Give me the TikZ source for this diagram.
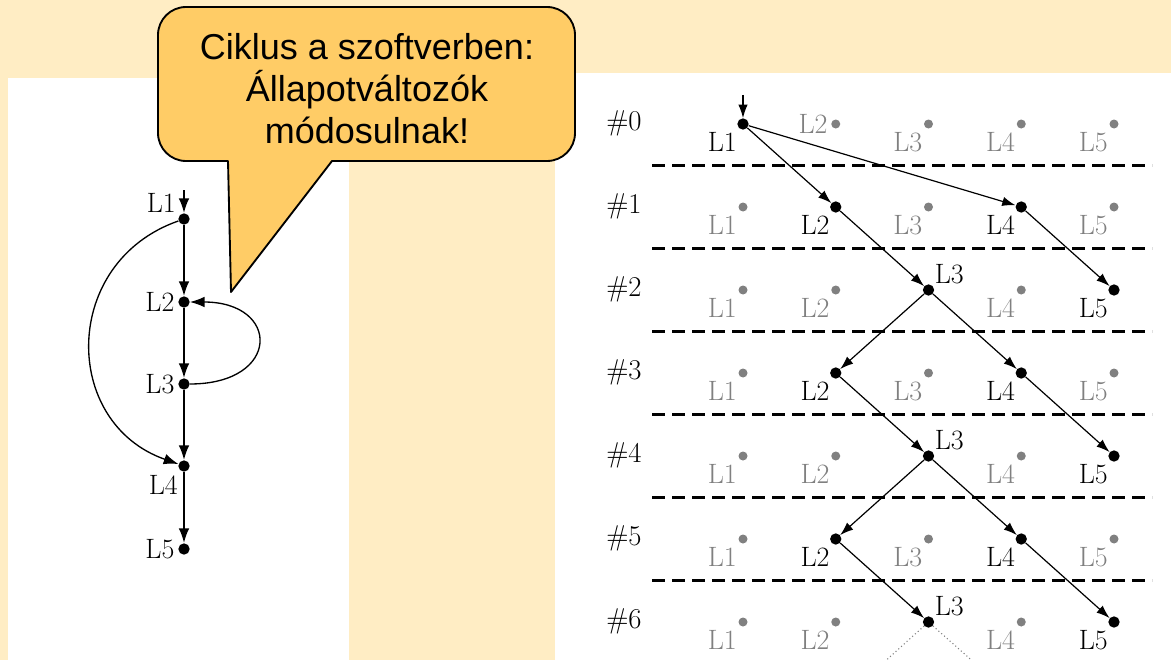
\documentclass[tikz,border=0pt]{standalone}
\usepackage{fontspec}
\newfontfamily\calloutfont{Liberation Sans}
\usetikzlibrary{arrows.meta}

\definecolor{paper}{RGB}{255,237,196}
\definecolor{callfill}{RGB}{255,204,102}
\definecolor{idle}{RGB}{128,128,128}

\tikzset{
  live/.style={circle, fill=black, inner sep=0pt, minimum size=8.5pt},
  idledot/.style={circle, fill=idle, inner sep=0pt, minimum size=6.75pt},
  lab/.style={inner sep=0pt, font=\fontsize{21}{25}\selectfont},
  idlelab/.style={lab, text=idle},
  rowlab/.style={inner sep=0pt, font=\fontsize{21.5}{25}\selectfont},
  flow/.style={-{Latex[length=10pt,width=7pt]}, line width=0.9pt},
  mainflow/.style={-{Latex[length=11pt,width=8pt]}, line width=1.5pt},
  sideflow/.style={-{Latex[length=11pt,width=8pt]}, line width=1pt},
  stepline/.style={dash pattern=on 9.5pt off 5.5pt, line width=1.6pt},
  fadeline/.style={dotted, idle, line width=0.8pt},
  callout/.style={draw=black, line width=1.4pt, fill=callfill, line join=round},
  callouttext/.style={align=center, inner sep=0pt,
    font=\calloutfont\fontsize{27}{31.5}\selectfont}
}

\begin{document}
\begin{tikzpicture}[x=0.75pt, y=-0.75pt]
\useasboundingbox (0,0) rectangle (1171,660);

% page background and the two white panels
\fill[paper] (0,0) rectangle (1171,660);
\fill[white] (8,78) rectangle (349,660);
\fill[white] (555,73) rectangle (1171,660);

% ---- control flow graph of the program ----
\foreach \i/\y in {1/219, 2/302, 3/384, 4/466, 5/549}
  \node[live] (a\i) at (184,\y) {};
\node[lab, anchor=south east, xshift=-6pt, yshift=4.5pt] (ta1) at (a1) {L1};
\node[lab, anchor=east, xshift=-7pt] (ta2) at (a2) {L2};
\node[lab, anchor=east, xshift=-7pt] (ta3) at (a3) {L3};
\node[lab, anchor=north east, xshift=-4.5pt, yshift=-6.5pt] (ta4) at (a4) {L4};
\node[lab, anchor=east, xshift=-7pt] (ta5) at (a5) {L5};

\coordinate (ain) at (184,190);
\draw[mainflow] (ain) -- (a1);
\draw[mainflow] (a1) -- (a2);
\draw[mainflow] (a2) -- (a3);
\draw[mainflow] (a3) -- (a4);
\draw[mainflow] (a4) -- (a5);
\draw[sideflow] (a1) .. controls (61,262) and (61,423) .. (a4);
\draw[sideflow] (a3) .. controls (281,384) and (281,302) .. (a2);

% ---- unrolled execution, one row per step ----
\foreach \r in {0,...,6} {
  \node[rowlab] (row\r) at (624,{123+83*\r}) {\#\r};
  \foreach \c in {1,...,5} {
    \pgfmathtruncatemacro\act{((\r==0) && (\c==1)) || (isodd(\r) && ((\c==2) || (\c==4))) || ((\r>0) && iseven(\r) && ((\c==3) || (\c==5)))}
    \ifnum\act=1
      \node[live] (r\r-\c) at ({743+92.75*(\c-1)},{124+83*\r}) {};
      \ifnum\c=3
        \node[lab, anchor=south west, xshift=4.5pt, yshift=4.5pt] (t\r-\c) at (r\r-\c) {L\c};
      \else
        \node[lab, anchor=north east, xshift=-4.5pt, yshift=-6pt] (t\r-\c) at (r\r-\c) {L\c};
      \fi
    \else
      \node[idledot] (r\r-\c) at ({743+92.75*(\c-1)},{124+83*\r}) {};
      \pgfmathtruncatemacro\besideleft{(\r==0) && (\c==2)}
      \ifnum\besideleft=1
        \node[idlelab, anchor=east, xshift=-6pt] (t\r-\c) at (r\r-\c) {L\c};
      \else
        \node[idlelab, anchor=north east, xshift=-4.5pt, yshift=-6pt] (t\r-\c) at (r\r-\c) {L\c};
      \fi
    \fi
  }
}

% step separators
\foreach \k in {0,...,5}
  \draw[stepline] (652,{165.5+83*\k}) -- (1152,{165.5+83*\k});

% transitions between steps
\coordinate (rin) at (743,95);
\draw[flow] (rin) -- (r0-1);
\draw[flow] (r0-1) -- (r1-2);
\draw[flow] (r0-1) -- (r1-4);
\draw[flow] (r1-2) -- (r2-3);
\draw[flow] (r1-4) -- (r2-5);
\draw[flow] (r2-3) -- (r3-2);
\draw[flow] (r2-3) -- (r3-4);
\draw[flow] (r3-2) -- (r4-3);
\draw[flow] (r3-4) -- (r4-5);
\draw[flow] (r4-3) -- (r5-2);
\draw[flow] (r4-3) -- (r5-4);
\draw[flow] (r5-2) -- (r6-3);
\draw[flow] (r5-4) -- (r6-5);

% continuation below the last step
\begin{scope}
  \clip (0,0) rectangle (1171,660);
  \coordinate (d1) at (872,673);
  \coordinate (d2) at (986,673);
  \draw[fadeline] (r6-3) -- (d1);
  \draw[fadeline] (r6-3) -- (d2);
\end{scope}

% ---- speech bubble ----
\draw[callout, rounded corners=21pt]
  (400,7) -- (575,7) -- (575,161) -- (420,161)
  [sharp corners] -- (332,161) -- (231,292) -- (228,161) -- (200,161)
  [rounded corners=21pt] -- (158,161) -- (158,7) -- cycle;
\node[callouttext] (bubble) at (367,89)
  {Ciklus a szoftverben:\\Állapotváltozók\\módosulnak!};
\end{tikzpicture}
\end{document}
